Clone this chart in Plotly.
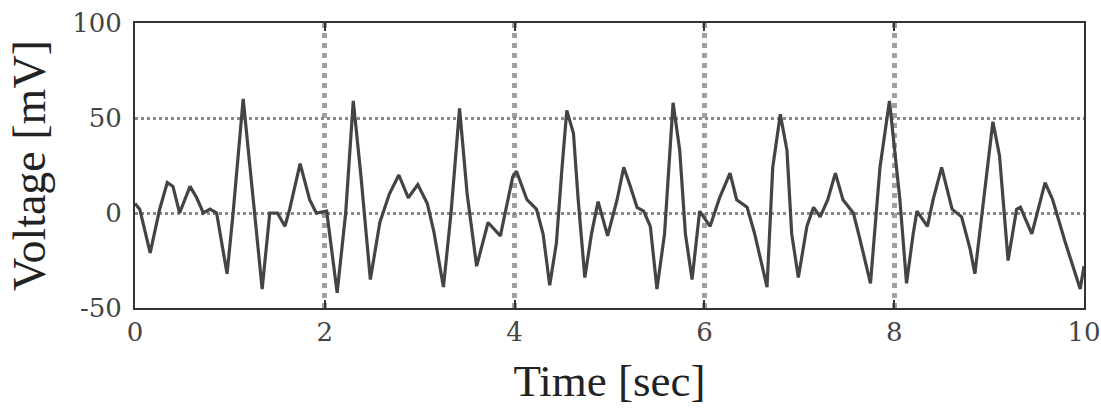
import plotly.graph_objects as go

# Time [sec] and Voltage [mV]
time_s = [0.00, 0.05, 0.16, 0.26, 0.34, 0.40, 0.47, 0.58, 0.65, 0.72, 0.79, 0.86,
          0.97, 1.03, 1.14, 1.23, 1.34, 1.42, 1.50, 1.58, 1.63, 1.74, 1.84, 1.91,
          2.02, 2.13, 2.22, 2.30, 2.38, 2.48, 2.58, 2.68, 2.78, 2.88, 2.98, 3.08,
          3.15, 3.25, 3.33, 3.42, 3.50, 3.60, 3.72, 3.85, 3.98,
          4.02, 4.13, 4.23, 4.30, 4.37, 4.44, 4.50, 4.55, 4.62, 4.67, 4.74, 4.81,
          4.88, 4.98, 5.08, 5.15, 5.22, 5.29, 5.36, 5.43, 5.50, 5.58, 5.67, 5.74,
          5.80, 5.87, 5.95, 6.06, 6.16, 6.27, 6.34, 6.45, 6.53, 6.66, 6.72, 6.80,
          6.87, 6.92, 6.99, 7.08, 7.15, 7.22, 7.30, 7.38, 7.46, 7.57, 7.64, 7.75,
          7.85, 7.95, 8.06, 8.13, 8.20, 8.24, 8.35, 8.41, 8.50, 8.61, 8.71, 8.80,
          8.85, 8.94, 9.04, 9.11, 9.16, 9.20, 9.29, 9.33, 9.45, 9.52, 9.59, 9.67,
          9.80, 9.96, 10.00]
voltage_mv = [5, 2, -21, 2, 16, 14, 0, 14, 8, 0, 2, 0,
              -32, -2, 60, 16, -40, 0, 0, -7, 2, 26, 7, 0,
              1, -42, 0, 59, 20, -35, -5, 10, 20, 8, 15, 5,
              -10, -39, 0, 55, 10, -28, -5, -12, 19,
              22, 7, 2, -11, -38, -16, 24, 54, 42, 7, -34, -11,
              6, -12, 7, 24, 14, 3, 1, -7, -40, -11, 58, 33,
              -11, -35, 1, -7, 8, 21, 7, 3, -11, -39, 24, 52,
              33, -11, -34, -7, 3, -2, 7, 21, 7, 0, -14, -37,
              24, 59, 7, -37, -11, 1, -7, 7, 24, 2, -2, -19,
              -32, 7, 48, 30, -2, -25, 2, 3, -11, 3, 16, 7,
              -15, -40, -28]

x_ticks = [0, 2, 4, 6, 8, 10]
y_ticks = [-50, 0, 50, 100]

fig = go.Figure()
fig.add_trace(go.Scatter(x=time_s, y=voltage_mv, mode="lines",
                         line=dict(color="#444444", width=3.2), showlegend=False))

title_font = "Liberation Serif"
tick_font = "DejaVu Serif"
fig.update_layout(
    width=1101, height=410,
    margin=dict(l=135, r=17, t=23, b=102),
    paper_bgcolor="white", plot_bgcolor="white",
    font=dict(family=title_font, color="#222"),
)
fig.update_xaxes(
    range=[0, 10], tickvals=x_ticks, ticktext=[str(v) for v in x_ticks],
    showgrid=True, gridcolor="#a0a0a0", gridwidth=5, griddash="dot",
    showline=True, linecolor="#333", linewidth=2, mirror="ticks",
    ticks="inside", ticklen=8, tickwidth=2, tickcolor="#333",
    tickfont=dict(size=26, family=tick_font, color="#444"),
    title=dict(text="Time [sec]", font=dict(size=45, family=title_font, color="#222"), standoff=18),
    zeroline=False, automargin=False,
)
fig.update_yaxes(
    range=[-50, 100], tickvals=y_ticks, ticktext=[str(v) for v in y_ticks],
    showgrid=True, gridcolor="#8a8a8a", gridwidth=3, griddash="dot",
    showline=True, linecolor="#333", linewidth=2, mirror=True,
    ticks="", ticklabelstandoff=6, tickfont=dict(size=26, family=tick_font, color="#444"),
    title=dict(text="Voltage [mV]", font=dict(size=46, family=title_font, color="#222"), standoff=12),
    zeroline=False, automargin=False,
)

# remove the page's default body margin so the figure fills the window exactly
fig.write_html("out.html",
               config={"displayModeBar": False},
               post_script="document.body.style.margin='0';document.body.style.overflow='hidden';")
